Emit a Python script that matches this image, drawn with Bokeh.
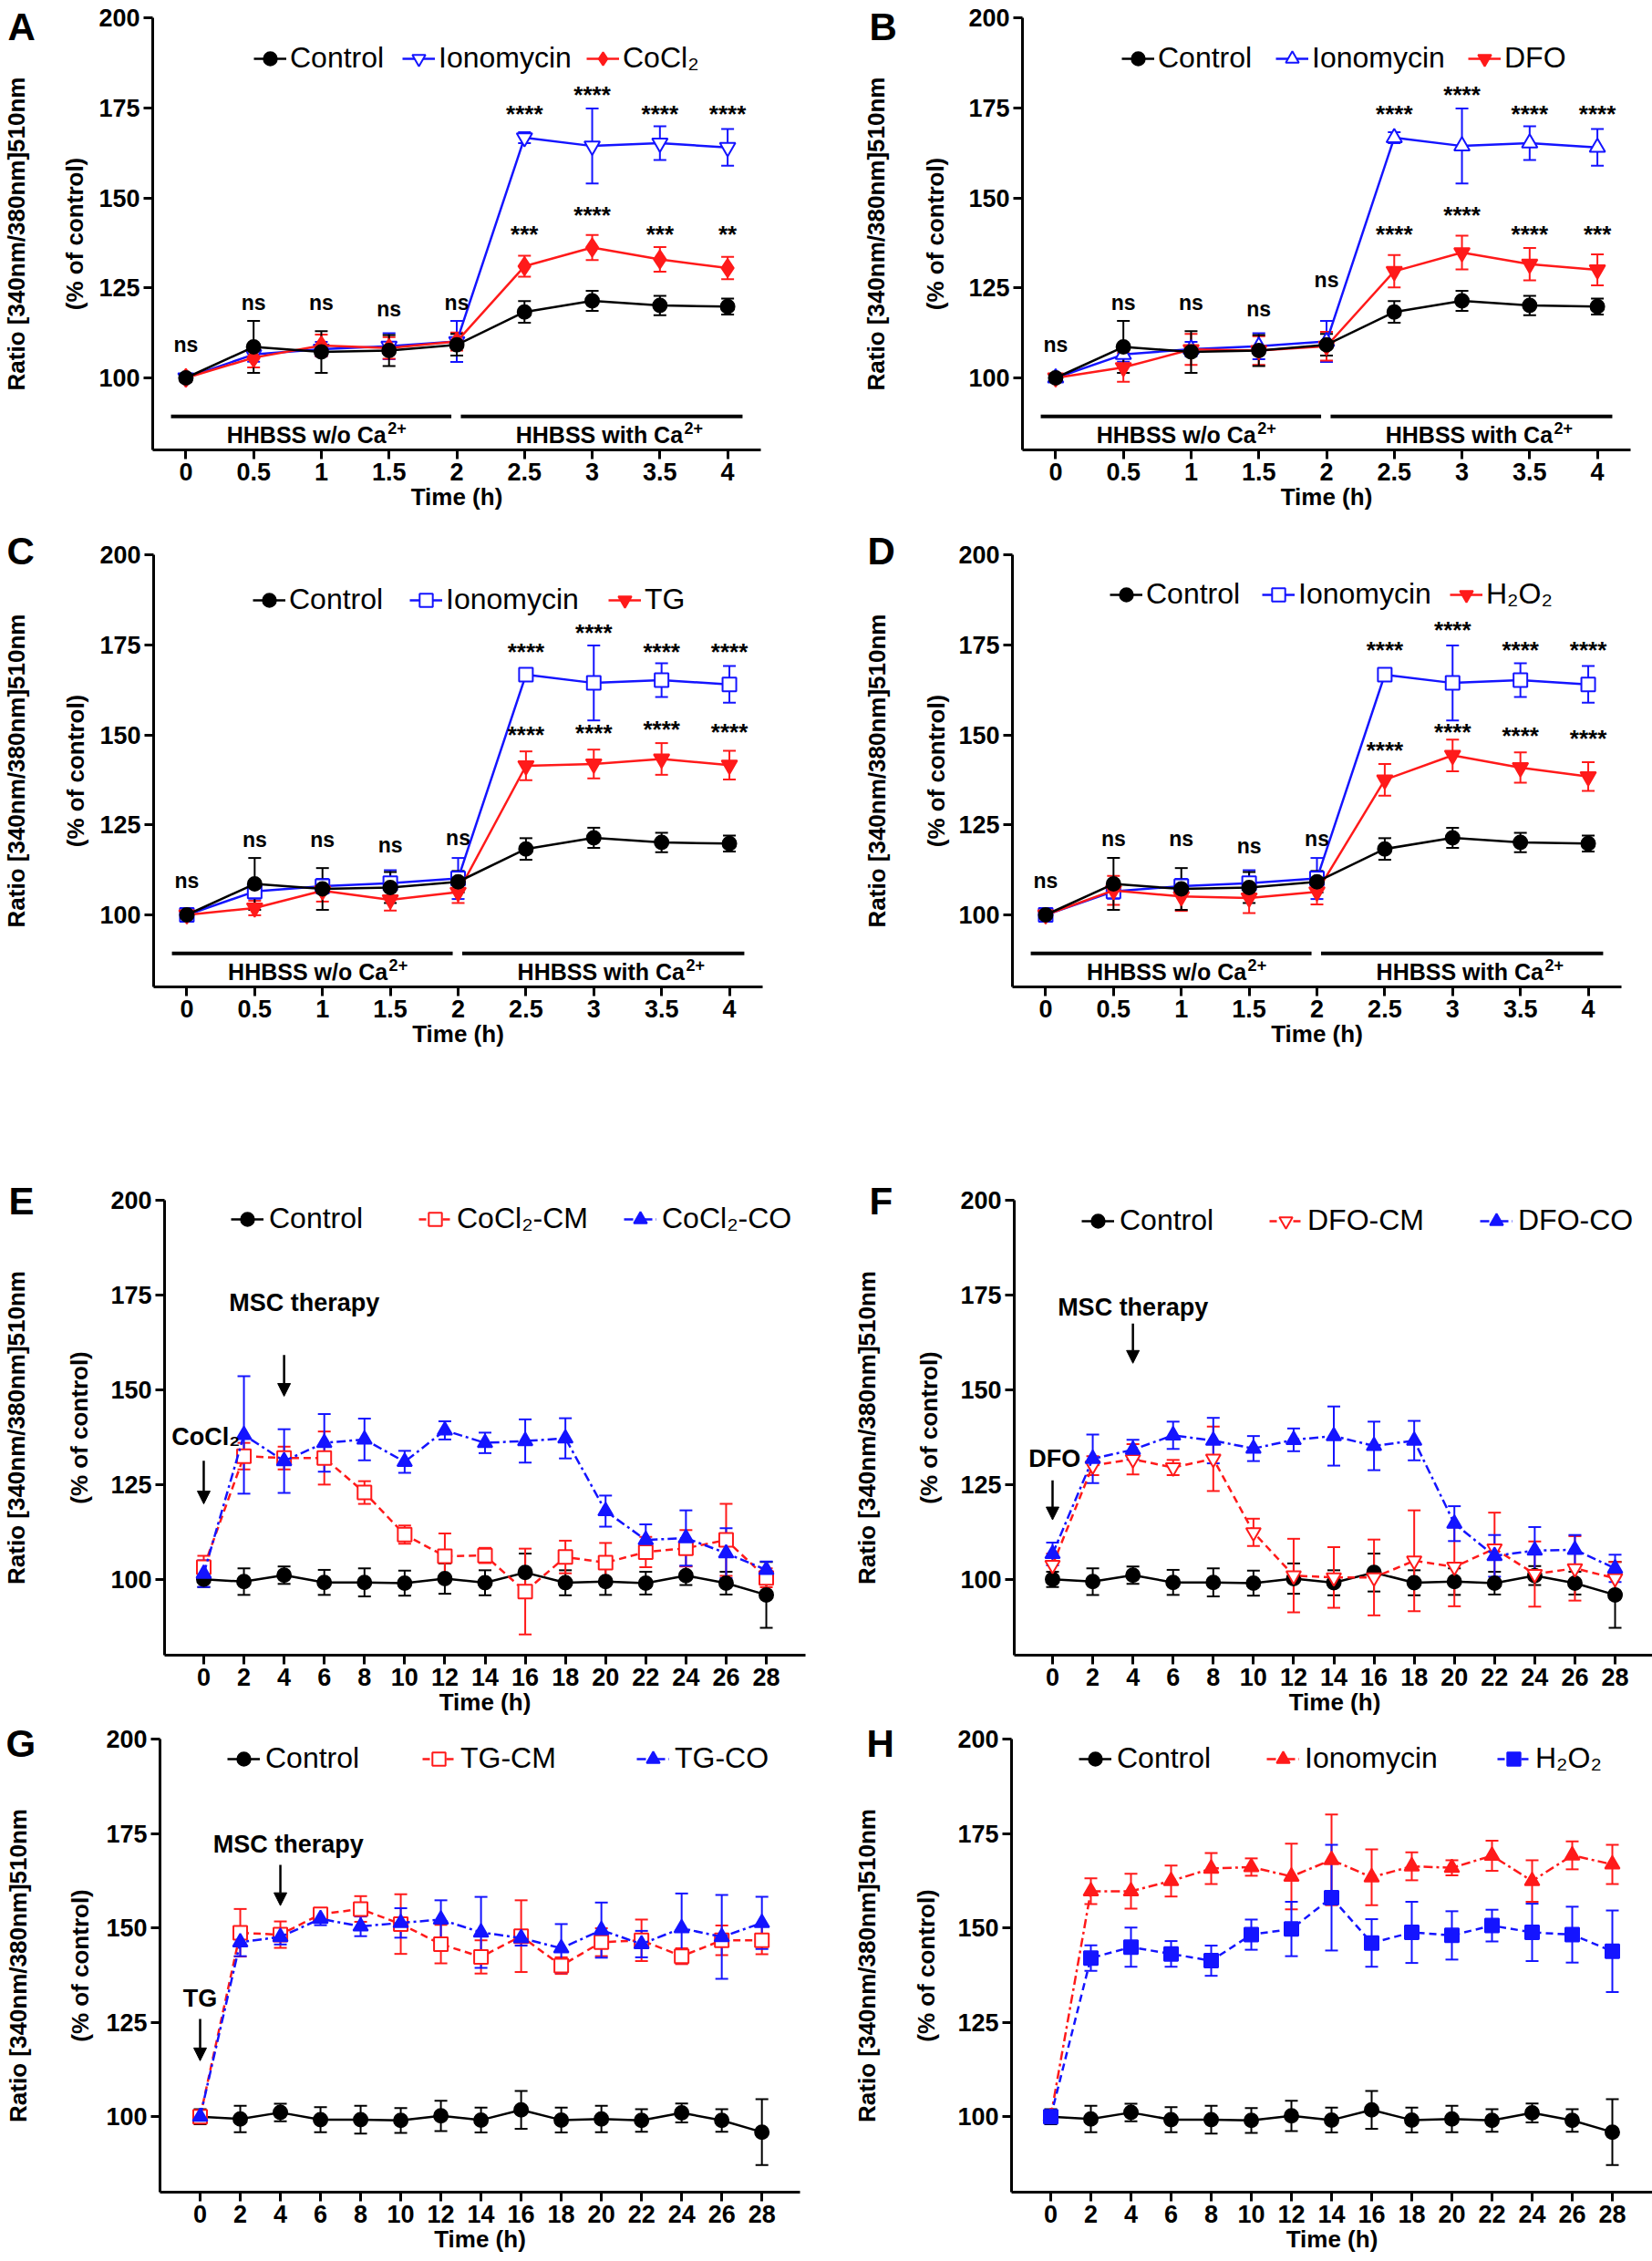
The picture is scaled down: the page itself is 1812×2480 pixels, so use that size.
import math
from bokeh.plotting import figure
from bokeh.models import (ColumnDataSource, Whisker, TeeHead, Legend, LegendItem, Title,
                          Arrow, NormalHead, FixedTicker, Range1d)
from bokeh.layouts import column, row
from bokeh.embed import file_html
from bokeh.resources import INLINE
from bokeh.core.properties import value

# ---------------- data ----------------
hours_short = [0, 0.5, 1, 1.5, 2, 2.5, 3, 3.5, 4]
hours_short_labels = ["0", "0.5", "1", "1.5", "2", "2.5", "3", "3.5", "4"]
hours_long = [0, 2, 4, 6, 8, 10, 12, 14, 16, 18, 20, 22, 24, 26, 28]
hours_long_labels = ["0", "2", "4", "6", "8", "10", "12", "14", "16", "18", "20", "22", "24", "26", "28"]
y_ticks = [100, 125, 150, 175, 200]

ctrl_short = [100, 108.6, 107.2, 107.6, 109.2, 118.3, 121.4, 120.1, 119.8]
ctrl_short_err = [1.0, 7.2, 5.8, 4.3, 3.0, 3.0, 2.8, 2.7, 2.2]
iono_short = [100, 106.5, 108.0, 108.8, 110.1, 166.7, 164.4, 165.2, 164.0]
iono_short_err = [1.0, 2.0, 2.0, 3.6, 5.7, 1.5, 10.4, 4.7, 5.1]
cocl2_short = [100, 105.6, 109.0, 108.3, 110.1, 131.0, 136.2, 132.9, 130.5]
cocl2_short_err = [1.0, 2.7, 3.0, 3.0, 2.5, 2.9, 3.5, 3.4, 3.1]
dfo_short = [100, 102.9, 107.9, 107.6, 108.8, 129.6, 134.8, 131.6, 130.0]
dfo_short_err = [1.0, 4.0, 4.3, 4.0, 4.0, 4.5, 4.7, 4.5, 4.3]
tg_short = [100, 101.9, 106.7, 104.2, 106.3, 141.4, 141.9, 143.3, 141.6]
tg_short_err = [1.0, 2.0, 3.0, 3.0, 3.0, 4.0, 4.0, 4.4, 4.0]
h2o2_short = [100, 106.8, 105.1, 104.7, 106.4, 137.5, 144.3, 140.9, 138.4]
h2o2_short_err = [1.0, 4.0, 4.0, 4.2, 3.5, 4.4, 4.4, 4.2, 4.0]

ctrl_long = [100, 99.4, 101.1, 99.2, 99.2, 99.0, 100.2, 99.1, 101.8, 99.1, 99.4, 99.0, 101.0, 99.0, 95.9]
ctrl_long_err = [2.0, 3.5, 2.3, 3.3, 3.7, 3.3, 4.0, 3.3, 5.0, 3.3, 3.5, 3.0, 2.5, 3.0, 8.7]
cocl2_cm = [103.2, 132.5, 132.0, 132.0, 122.9, 111.8, 106.1, 106.3, 96.8, 105.9, 104.4, 107.2, 108.2, 110.4, 100.4]
cocl2_cm_err = [3.0, 3.5, 3.0, 7.0, 3.0, 2.4, 6.0, 2.0, 11.3, 4.3, 5.2, 4.0, 4.8, 9.5, 2.5]
cocl2_co = [101.5, 138.1, 131.2, 136.0, 136.9, 131.0, 139.3, 136.0, 136.5, 137.2, 118.0, 110.4, 110.9, 106.9, 102.5]
cocl2_co_err = [3.5, 15.5, 8.4, 7.6, 5.5, 2.9, 2.4, 2.7, 5.7, 5.3, 4.1, 4.1, 7.3, 6.6, 2.2]
dfo_cm = [103.8, 130.0, 131.7, 129.5, 131.8, 112.4, 101.0, 100.5, 100.5, 104.9, 103.3, 108.1, 101.4, 102.9, 100.3]
dfo_cm_err = [3.0, 2.5, 4.0, 2.0, 8.5, 3.6, 9.7, 8.0, 10.0, 13.3, 10.4, 9.5, 8.6, 8.5, 4.3]
dfo_co = [106.7, 131.8, 134.2, 138.0, 136.6, 134.5, 136.8, 137.8, 135.2, 136.6, 114.7, 106.2, 107.6, 107.8, 102.9]
dfo_co_err = [3.0, 6.4, 2.6, 3.6, 6.0, 3.3, 3.0, 7.8, 6.4, 5.2, 4.6, 5.5, 6.2, 3.9, 3.6]
tg_cm = [100, 148.7, 148.2, 153.6, 155.0, 151.0, 145.7, 142.3, 147.8, 140.0, 146.2, 146.7, 142.5, 146.7, 146.7]
tg_cm_err = [1.0, 6.3, 3.5, 1.6, 3.4, 7.9, 5.1, 4.4, 9.5, 2.2, 3.7, 5.5, 2.1, 3.9, 3.7]
tg_co = [100, 146.2, 147.6, 152.4, 150.4, 151.3, 152.2, 148.8, 147.3, 144.6, 149.4, 145.7, 149.9, 147.6, 151.3]
tg_co_err = [1.0, 3.7, 2.0, 1.7, 2.6, 3.9, 5.1, 9.4, 2.0, 6.4, 7.3, 3.5, 9.2, 11.1, 6.9]
iono_long = [100, 159.7, 159.7, 162.4, 165.7, 166.1, 163.6, 168.0, 163.4, 166.3, 165.9, 169.1, 162.4, 169.2, 166.8]
iono_long_err = [1.0, 3.4, 4.6, 4.1, 4.1, 2.3, 8.7, 12.0, 7.4, 3.7, 2.0, 4.0, 5.5, 3.7, 5.2]
h2o2_long = [100, 142.0, 144.9, 143.1, 141.3, 148.2, 149.7, 158.0, 146.0, 148.8, 148.0, 150.6, 148.8, 148.2, 143.8]
h2o2_long_err = [1.0, 3.4, 5.2, 3.4, 4.0, 4.0, 7.2, 14.0, 6.3, 8.1, 6.4, 4.2, 7.6, 7.4, 10.8]

# significance annotations for panels A-D
ns_x = [0, 0.5, 1, 1.5, 2]
star_x = [2.5, 3, 3.5, 4]
sig_A_ns_y = [109.2, 121.0, 121.0, 119.2, 121.0]
sig_A_top = ["****", "****", "****", "****"]
sig_A_top_y = [173.2, 178.5, 173.2, 173.2]
sig_A_red = ["***", "****", "***", "**"]
sig_A_red_y = [140.0, 145.2, 140.0, 140.0]
sig_B_ns_y = [109.2, 121.0, 121.0, 119.2, 127.3]
sig_B_top = ["****", "****", "****", "****"]
sig_B_top_y = [173.2, 178.5, 173.2, 173.2]
sig_B_red = ["****", "****", "****", "***"]
sig_B_red_y = [140.0, 145.2, 140.0, 140.0]
sig_C_ns_y = [109.6, 120.8, 120.8, 119.4, 121.3]
sig_C_top = ["****", "****", "****", "****"]
sig_C_top_y = [173.0, 178.4, 173.0, 173.0]
sig_C_red = ["****", "****", "****", "****"]
sig_C_red_y = [150.0, 150.5, 151.5, 150.8]
sig_D_ns_y = [109.4, 121.1, 121.1, 119.2, 121.1]
sig_D_top = ["****", "****", "****", "****"]
sig_D_top_y = [173.6, 179.1, 173.6, 173.6]
sig_D_red = ["****", "****", "****", "****"]
sig_D_red_y = [145.7, 150.7, 149.8, 148.9]

# medium labels under panels A-D
medium_text = ["HHBSS w/o Ca", "HHBSS with Ca"]
medium_sup = ["2+", "2+"]

FONT = "Liberation Sans"
BLUE = "#1414ff"
RED = "#ff1a1a"
BLACK = "#000000"
YLABEL = "Ratio [340nm/380nm]510nm\n(% of control)"

GW, GH = 36, 36


def series(label, x, y, err, color, marker, size, fill, dash="solid"):
    return dict(label=label, x=x, y=y, err=err, color=color, marker=marker,
                size=size, fill=fill, dash=dash)


def draw_series(p, s):
    up = [a + b for a, b in zip(s["y"], s["err"])]
    lo = [a - b for a, b in zip(s["y"], s["err"])]
    src = ColumnDataSource(dict(x=s["x"], y=s["y"], up=up, lo=lo))
    w = Whisker(source=src, base="x", upper="up", lower="lo", dimension="height",
                line_color=s["color"], line_width=2,
                upper_head=TeeHead(size=14, line_color=s["color"], line_width=2),
                lower_head=TeeHead(size=14, line_color=s["color"], line_width=2))
    p.add_layout(w)
    ln = p.line("x", "y", source=src, line_color=s["color"], line_width=2.5, line_dash=s["dash"])
    mk = p.scatter("x", "y", source=src, marker=s["marker"], size=s["size"],
                   line_color=s["color"], fill_color=s["fill"], line_width=2)
    return ln, mk


def add_texts(p, xs, ys, texts, size="24px", align="center"):
    p.text(x=xs, y=ys, text=texts, text_font=value(FONT), text_font_style="bold",
           text_font_size=size, text_align=align, text_baseline="middle", text_color="black")


def build_panel(spec):
    fl, fw, fr, ft, fh, fb = spec["geom"]
    col_x, row_y = spec["origin"]
    frame_left = col_x + fl
    frame_top = row_y + ft
    frame_bottom = frame_top + fh
    p = figure(frame_width=fw, frame_height=fh, min_border_left=fl, min_border_right=fr,
               min_border_top=ft, min_border_bottom=fb,
               x_range=Range1d(*spec["xr"]), y_range=Range1d(80, 200),
               output_backend="svg", toolbar_location=None)
    p.outline_line_color = None
    p.xgrid.visible = False
    p.ygrid.visible = False
    for ax in (p.xaxis[0], p.yaxis[0]):
        ax.axis_line_width = 3
        ax.axis_line_color = "black"
        ax.major_tick_line_width = 3
        ax.major_tick_line_color = "black"
        ax.major_tick_out = 10
        ax.major_tick_in = 0
        ax.minor_tick_line_color = None
        ax.major_label_text_font = FONT
        ax.major_label_text_font_style = "bold"
        ax.major_label_text_font_size = "27px"
        ax.major_label_text_color = "black"
        ax.major_label_standoff = 4
    p.xaxis.ticker = FixedTicker(ticks=spec["ticks"])
    p.xaxis.major_label_overrides = {t: l for t, l in zip(spec["ticks"], spec["tick_labels"])}
    p.yaxis.ticker = FixedTicker(ticks=y_ticks)
    p.xaxis.axis_label = "Time (h)"
    p.xaxis.axis_label_text_font = FONT
    p.xaxis.axis_label_text_font_style = "bold"
    p.xaxis.axis_label_text_font_size = "26px"
    p.xaxis.axis_label_text_color = "black"
    p.xaxis.axis_label_standoff = 0

    # two-line y axis title
    r1, r2 = spec["ylab_x"]
    p.yaxis.axis_label = YLABEL
    p.yaxis.axis_label_text_font = FONT
    p.yaxis.axis_label_text_font_style = "bold"
    p.yaxis.axis_label_text_font_size = "26px"
    p.yaxis.axis_label_text_color = "black"
    p.yaxis.axis_label_text_align = "center"
    p.yaxis.axis_label_text_line_height = (r2 - r1) / 29.0
    p.yaxis.axis_label_standoff = int(round(-r2 - 73.5))

    # panel letter: a title above the frame; its bottom edge sits at frame_top - standoff/2
    lx, ly = spec["letter_pos"]
    p.add_layout(Title(text=spec["letter"], align="left", vertical_align="bottom",
                       offset=lx - frame_left, standoff=2 * (frame_top - ly - 24),
                       text_font=FONT, text_font_style="bold", text_font_size="42px",
                       text_color="black"),
                 "above")

    rends = {}
    for key in spec["order"]:
        rends[key] = draw_series(p, spec["series"][key])

    for key, (gx, gy) in zip(spec["legend_order"], spec["legend_pos"]):
        s = spec["series"][key]
        lg = Legend(items=[LegendItem(label=s["label"], renderers=list(rends[key]))],
                    location=(gx - GW / 2 - frame_left, frame_bottom - gy - GH / 2),
                    orientation="horizontal", glyph_width=GW, glyph_height=GH,
                    label_height=GH, label_standoff=spec.get("standoff", 4), padding=0,
                    margin=0, spacing=0, border_line_color=None, background_fill_alpha=0,
                    label_text_font=FONT, label_text_font_size="32px",
                    label_text_color="black")
        p.add_layout(lg)

    if "sig" in spec:
        ns_y, top, top_y, red, red_y = spec["sig"]
        add_texts(p, ns_x, ns_y, ["ns"] * len(ns_x), size="23px")
        add_texts(p, star_x, top_y, top, size="26px")
        add_texts(p, star_x, red_y, red, size="26px")
        p.segment(x0=[-0.11, 2.03], y0=[89.3, 89.3], x1=[1.96, 4.11], y1=[89.3, 89.3],
                  line_width=4, line_color="black")
        jx = [1.48, 3.67]
        add_texts(p, jx, [84.2, 84.2], medium_text, size="25px", align="right")
        add_texts(p, [j + 0.01 for j in jx], [86.2, 86.2], medium_sup, size="18px", align="left")

    for (x0, y0, x1, y1) in spec.get("arrows", []):
        p.add_layout(Arrow(x_start=x0, y_start=y0, x_end=x1, y_end=y1, line_width=2.5,
                           line_color="black",
                           end=NormalHead(size=14, fill_color="black", line_color="black")))
    for (tx, ty, tt) in spec.get("arrow_texts", []):
        add_texts(p, [tx], [ty], [tt], size="27px")
    return p


SHORT_XR = (-0.245, 4.245)

ctrl_s = series("Control", hours_short, ctrl_short, ctrl_short_err, BLACK, "circle", 15, BLACK)
iono_tri_dn = series("Ionomycin", hours_short, iono_short, iono_short_err, BLUE, "inverted_triangle", 17, "white")
iono_tri_up = series("Ionomycin", hours_short, iono_short, iono_short_err, BLUE, "triangle", 17, "white")
iono_sq = series("Ionomycin", hours_short, iono_short, iono_short_err, BLUE, "square", 15, "white")
ctrl_l = series("Control", hours_long, ctrl_long, ctrl_long_err, BLACK, "circle", 15, BLACK)

row1_y, row2_y, row3_y, row4_y = 0, 578, 1260, 1883
colL, colR = 0, 900

specs = {
    "A": dict(letter="A", origin=(colL, row1_y), geom=(164, 667, 69, 19, 474, 85), xr=SHORT_XR,
              ticks=hours_short, tick_labels=hours_short_labels, ylab_x=(-144, -82),
              letter_pos=(5, 28),
              series={"c": ctrl_s, "i": iono_tri_dn,
                      "r": series("CoCl₂", hours_short, cocl2_short, cocl2_short_err, RED, "diamond", 20, RED)},
              order=["i", "r", "c"], legend_order=["c", "i", "r"],
              legend_pos=[(293, 64), (456, 64), (658, 64)],
              sig=(sig_A_ns_y, sig_A_top, sig_A_top_y, sig_A_red, sig_A_red_y)),
    "B": dict(letter="B", origin=(colR, row1_y), geom=(218, 667, 27, 19, 474, 85), xr=SHORT_XR,
              ticks=hours_short, tick_labels=hours_short_labels, ylab_x=(-155, -92),
              letter_pos=(950, 28),
              series={"c": ctrl_s, "i": iono_tri_up,
                      "r": series("DFO", hours_short, dfo_short, dfo_short_err, RED, "inverted_triangle", 17, RED)},
              order=["i", "r", "c"], legend_order=["c", "i", "r"],
              legend_pos=[(1245, 64), (1414, 64), (1625, 64)],
              sig=(sig_B_ns_y, sig_B_top, sig_B_top_y, sig_B_red, sig_B_red_y)),
    "C": dict(letter="C", origin=(colL, row2_y), geom=(167, 668, 65, 30, 474, 178), xr=SHORT_XR,
              ticks=hours_short, tick_labels=hours_short_labels, ylab_x=(-145, -82),
              letter_pos=(6, 603),
              series={"c": ctrl_s, "i": iono_sq,
                      "r": series("TG", hours_short, tg_short, tg_short_err, RED, "inverted_triangle", 17, RED)},
              order=["i", "r", "c"], legend_order=["c", "i", "r"],
              legend_pos=[(294, 658), (466, 658), (684, 658)],
              sig=(sig_C_ns_y, sig_C_top, sig_C_top_y, sig_C_red, sig_C_red_y)),
    "D": dict(letter="D", origin=(colR, row2_y), geom=(209, 668, 35, 30, 474, 178), xr=SHORT_XR,
              ticks=hours_short, tick_labels=hours_short_labels, ylab_x=(-143, -80),
              letter_pos=(950, 603),
              series={"c": ctrl_s, "i": iono_sq,
                      "r": series("H₂O₂", hours_short, h2o2_short, h2o2_short_err, RED, "inverted_triangle", 17, RED)},
              order=["i", "r", "c"], legend_order=["c", "i", "r"],
              legend_pos=[(1234, 652), (1401, 652), (1607, 652)],
              sig=(sig_D_ns_y, sig_D_top, sig_D_top_y, sig_D_red, sig_D_red_y)),
    "E": dict(letter="E", origin=(colL, row3_y), geom=(177, 703, 20, 56, 499, 68), xr=(-1.95, 29.95),
              ticks=hours_long, tick_labels=hours_long_labels, ylab_x=(-157, -90),
              letter_pos=(6, 1316), standoff=6,
              series={"c": ctrl_l,
                      "m": series("CoCl₂-CM", hours_long, cocl2_cm, cocl2_cm_err, RED, "square", 15, "white", "8 5"),
                      "o": series("CoCl₂-CO", hours_long, cocl2_co, cocl2_co_err, BLUE, "triangle", 16, BLUE, "10 4 3 4")},
              order=["c", "m", "o"], legend_order=["c", "m", "o"],
              legend_pos=[(268, 1337), (474, 1337), (699, 1337)],
              arrows=[(0, 131.3, 0, 119.9), (4, 159.2, 4, 148.3)],
              arrow_texts=[(0.1, 137.6, "CoCl₂"), (5.0, 172.9, "MSC therapy")]),
    "F": dict(letter="F", origin=(colR, row3_y), geom=(209, 703, 0, 56, 499, 68), xr=(-1.906, 29.996),
              ticks=hours_long, tick_labels=hours_long_labels, ylab_x=(-155, -89),
              letter_pos=(950, 1316), standoff=6,
              series={"c": ctrl_l,
                      "m": series("DFO-CM", hours_long, dfo_cm, dfo_cm_err, RED, "inverted_triangle", 16, "white", "8 5"),
                      "o": series("DFO-CO", hours_long, dfo_co, dfo_co_err, BLUE, "triangle", 16, BLUE, "10 4 3 4")},
              order=["c", "m", "o"], legend_order=["c", "m", "o"],
              legend_pos=[(1201, 1339), (1407, 1339), (1638, 1339)],
              arrows=[(0, 126.1, 0, 115.7), (4, 167.5, 4, 157.0)],
              arrow_texts=[(0.1, 131.8, "DFO"), (4.0, 171.8, "MSC therapy")]),
    "G": dict(letter="G", origin=(colL, row4_y), geom=(175, 702, 23, 23, 497, 77), xr=(-2.0, 29.9),
              ticks=hours_long, tick_labels=hours_long_labels, ylab_x=(-149, -83),
              letter_pos=(6, 1910), standoff=6,
              series={"c": ctrl_l,
                      "m": series("TG-CM", hours_long, tg_cm, tg_cm_err, RED, "square", 15, "white", "8 5"),
                      "o": series("TG-CO", hours_long, tg_co, tg_co_err, BLUE, "triangle", 16, BLUE, "10 4 3 4")},
              order=["c", "m", "o"], legend_order=["c", "m", "o"],
              legend_pos=[(267, 1928), (481, 1928), (716, 1928)],
              arrows=[(0, 125.9, 0, 114.8), (4, 166.7, 4, 155.9)],
              arrow_texts=[(0.0, 131.4, "TG"), (4.4, 172.1, "MSC therapy")]),
    "H": dict(letter="H", origin=(colR, row4_y), geom=(209, 703, 0, 23, 497, 77), xr=(-1.955, 30.0),
              ticks=hours_long, tick_labels=hours_long_labels, ylab_x=(-152, -89),
              letter_pos=(950, 1910), standoff=6,
              series={"c": ctrl_l,
                      "i": series("Ionomycin", hours_long, iono_long, iono_long_err, RED, "triangle", 16, RED, "10 4 3 4"),
                      "h": series("H₂O₂", hours_long, h2o2_long, h2o2_long_err, BLUE, "square", 15, BLUE, "8 5")},
              order=["c", "i", "h"], legend_order=["c", "i", "h"],
              legend_pos=[(1201, 1928), (1407, 1928), (1660, 1928)]),
}

figs = {k: build_panel(v) for k, v in specs.items()}

layout = column(
    row(figs["A"], figs["B"], spacing=0),
    row(figs["C"], figs["D"], spacing=0),
    row(figs["E"], figs["F"], spacing=0),
    row(figs["G"], figs["H"], spacing=0),
    spacing=0,
)

open("out.html", "w").write(file_html(layout, INLINE))
